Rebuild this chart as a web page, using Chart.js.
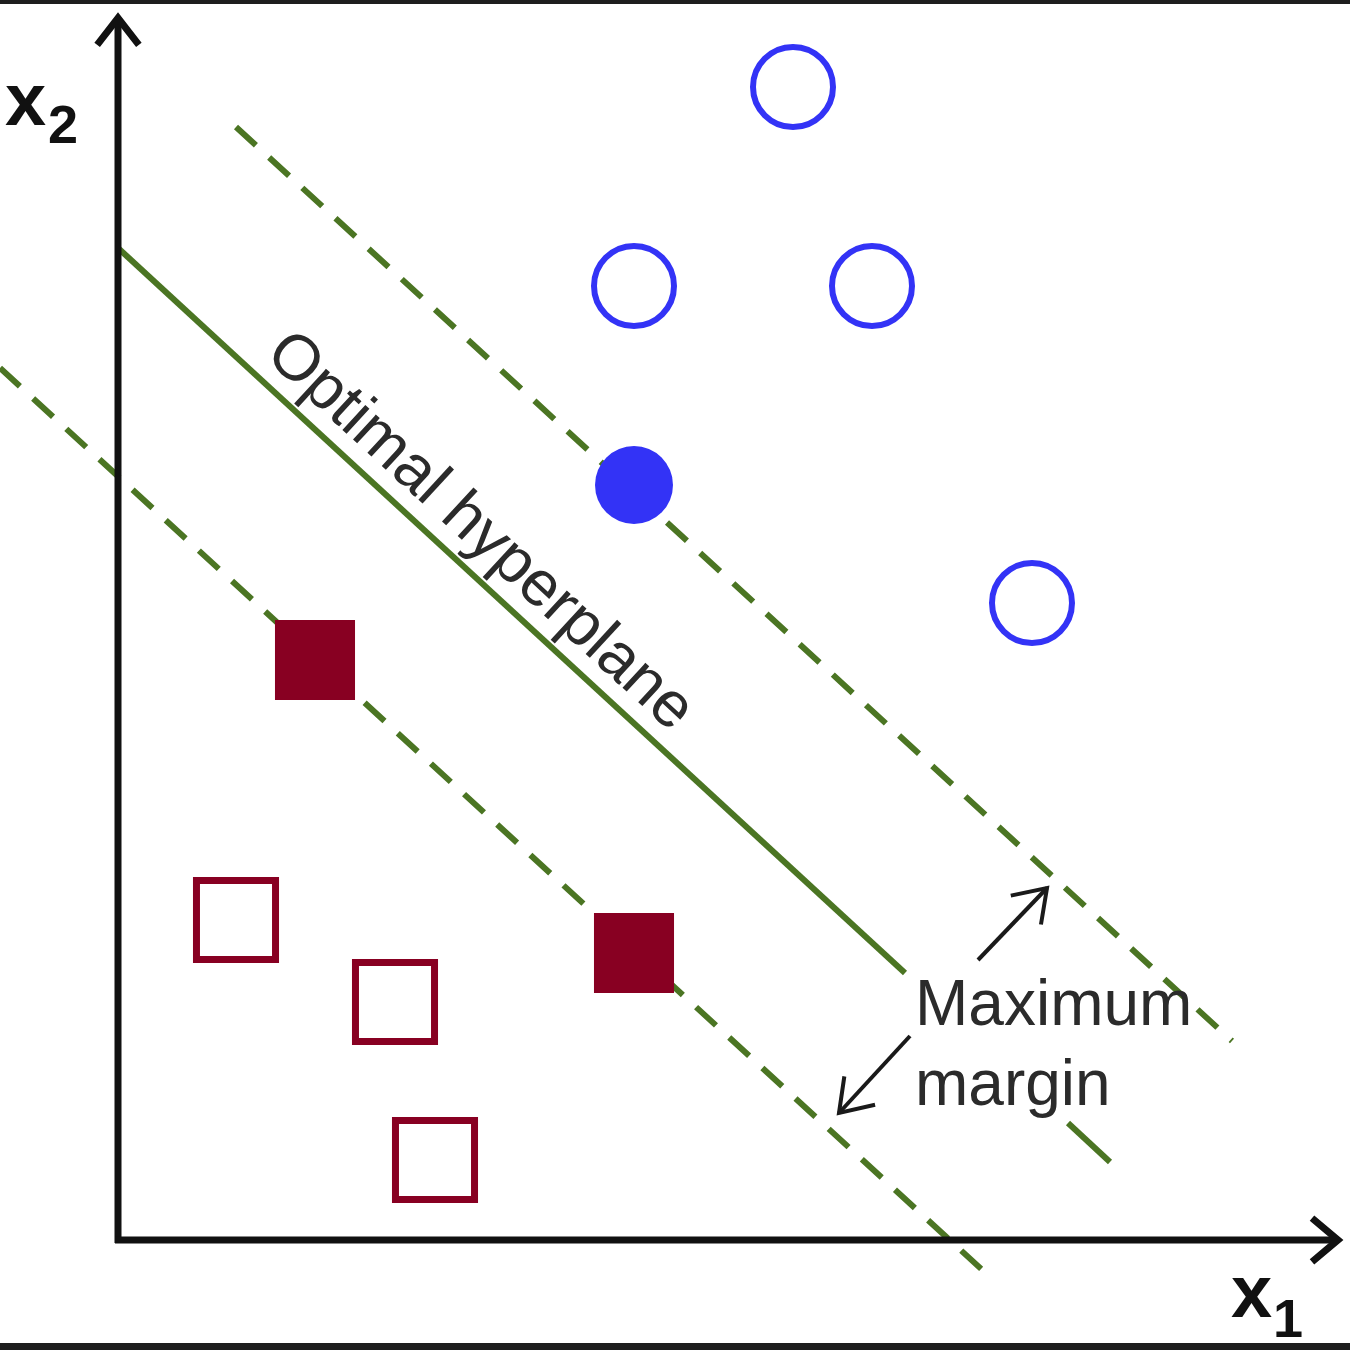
<!DOCTYPE html>
<html>
<head>
<meta charset="utf-8">
<script src="https://cdn.jsdelivr.net/npm/chart.js@4.4.1/dist/chart.umd.min.js"></script>
<style>
  html, body { margin: 0; padding: 0; background: #fff; }
  canvas { display: block; }
</style>
</head>
<body>
<canvas id="svmChart" width="1350" height="1350"></canvas>
<script>
// class +1 (blue circles), the filled one is the support vector
const bluePoints = [
    { x: 6.75, y: 11.53 },
    { x: 5.16, y: 9.54 },
    { x: 7.54, y: 9.54 },
    { x: 9.14, y: 6.37 }
];
const blueSupport = [{ x: 5.16, y: 7.55 }];

// class -1 (red squares)
const redSupport = [{ x: 1.97, y: 5.80 }, { x: 5.16, y: 2.87 }];
const redPoints = [{ x: 1.18, y: 3.20 }, { x: 2.77, y: 2.38 }, { x: 3.17, y: 0.80 }];

// decision boundary (broken where the label sits) and margins
const hyperplaneA = [{ x: 0, y: 9.92 }, { x: 7.87, y: 2.67 }];
const hyperplaneB = [{ x: 9.50, y: 1.17 }, { x: 9.92, y: 0.78 }];
const upperMargin = [{ x: 1.18, y: 11.13 }, { x: 11.14, y: 1.99 }];
const lowerMargin = [{ x: -1.18, y: 8.72 }, { x: 8.72, y: -0.37 }];

const GREEN = "#4b7523";
const BLUE = "#3333f6";
const RED = "#880022";
const TEXT = "#2b2b2b";
const FONT = "'Liberation Sans', Arial, sans-serif";

function arrowHead(ctx, x1, y1, x2, y2, len, ang) {
    const a = Math.atan2(y2 - y1, x2 - x1);
    ctx.beginPath();
    ctx.moveTo(x2 - len * Math.cos(a - ang), y2 - len * Math.sin(a - ang));
    ctx.lineTo(x2, y2);
    ctx.lineTo(x2 - len * Math.cos(a + ang), y2 - len * Math.sin(a + ang));
    ctx.stroke();
}

function arrow(ctx, x1, y1, x2, y2, width, len, ang) {
    ctx.lineWidth = width;
    ctx.beginPath();
    ctx.moveTo(x1, y1);
    ctx.lineTo(x2, y2);
    ctx.stroke();
    arrowHead(ctx, x1, y1, x2, y2, len, ang);
}

const decorations = {
    id: "decorations",
    afterDatasetsDraw(chart) {
        const ctx = chart.ctx;
        const xs = chart.scales.x;
        const ys = chart.scales.y;
        const px = v => xs.getPixelForValue(v);
        const py = v => ys.getPixelForValue(v);

        ctx.save();
        ctx.strokeStyle = "#111";
        ctx.lineCap = "butt";
        ctx.lineJoin = "miter";

        // axes
        arrow(ctx, px(0), py(-0.03), px(0), py(12.22), 7, 34, 0.66);
        arrow(ctx, px(-0.03), py(0), px(12.20), py(0), 7, 34, 0.7);

        // margin arrows
        ctx.strokeStyle = "#1a1a1a";
        arrow(ctx, px(8.60), py(2.80), px(9.29), py(3.52), 4, 37, 0.6);
        arrow(ctx, px(7.92), py(2.04), px(7.21), py(1.27), 4, 37, 0.6);

        // axis labels
        ctx.fillStyle = "#111";
        ctx.textAlign = "left";
        ctx.textBaseline = "alphabetic";
        ctx.font = "bold 74px " + FONT;
        ctx.fillText("x", px(-1.13), py(11.15));
        ctx.fillText("x", px(11.13), py(-0.77));
        ctx.font = "bold 54px " + FONT;
        ctx.fillText("2", px(-0.70), py(10.97));
        ctx.fillText("1", px(11.55), py(-0.97));

        // hyperplane label, rotated along the line
        const ang = Math.atan2(py(hyperplaneA[1].y) - py(hyperplaneA[0].y),
                               px(hyperplaneA[1].x) - px(hyperplaneA[0].x));
        ctx.save();
        ctx.fillStyle = TEXT;
        ctx.font = "64px " + FONT;
        ctx.translate(px(3.495), py(6.95));
        ctx.rotate(ang);
        ctx.textAlign = "center";
        ctx.fillText("Optimal hyperplane", 0, 0);
        ctx.restore();

        ctx.fillStyle = TEXT;
        ctx.font = "64px " + FONT;
        ctx.textAlign = "left";
        ctx.fillText("Maximum", px(7.97), py(2.15));
        ctx.fillText("margin", px(7.97), py(1.35));

        // frame bands
        ctx.fillStyle = "#1e1e1e";
        ctx.fillRect(0, 0, chart.width, 4);
        ctx.fillRect(0, chart.height - 7, chart.width, 7);
        ctx.restore();
    }
};

const lineStyle = (data, dashed) => ({
    data: data,
    showLine: true,
    borderColor: GREEN,
    borderWidth: 6,
    borderDash: dashed ? [27, 18] : [],
    pointRadius: 0,
    fill: false,
    order: 2
});

new Chart(document.getElementById("svmChart"), {
    type: "scatter",
    data: {
        datasets: [
            {
                data: bluePoints,
                pointStyle: "circle",
                pointRadius: 40,
                borderWidth: 6,
                borderColor: BLUE,
                backgroundColor: "#fff",
                order: 1
            },
            {
                data: blueSupport,
                pointStyle: "circle",
                pointRadius: 39,
                borderWidth: 0,
                backgroundColor: BLUE,
                order: 1
            },
            {
                data: redSupport,
                pointStyle: "rect",
                pointRadius: 56.6,
                borderWidth: 0,
                backgroundColor: RED,
                order: 1
            },
            {
                data: redPoints,
                pointStyle: "rect",
                pointRadius: 55.9,
                borderWidth: 7,
                borderColor: RED,
                backgroundColor: "#fff",
                order: 1
            },
            lineStyle(hyperplaneA, false),
            lineStyle(hyperplaneB, false),
            lineStyle(upperMargin, true),
            lineStyle(lowerMargin, true)
        ]
    },
    options: {
        responsive: false,
        animation: false,
        events: [],
        layout: { padding: 0, autoPadding: false },
        plugins: {
            legend: { display: false },
            tooltip: { enabled: false }
        },
        scales: {
            x: { type: "linear", min: -1.18, max: 12.32, display: false },
            y: { type: "linear", min: -1.10, max: 12.40, display: false }
        }
    },
    plugins: [decorations]
});
</script>
</body>
</html>
